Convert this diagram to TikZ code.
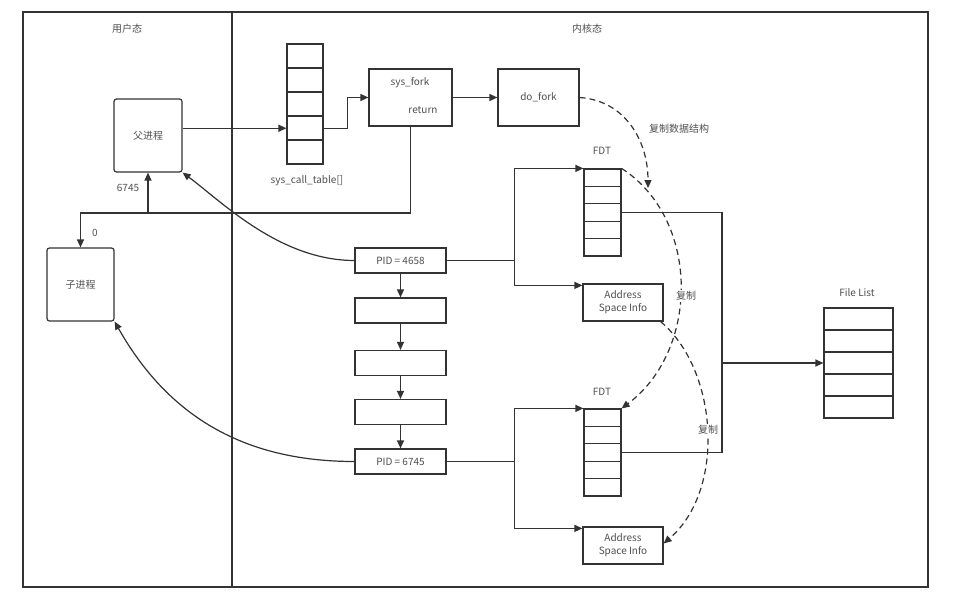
\documentclass[tikz,border=0pt]{standalone}
\usepackage{fontspec}
\setmainfont{Noto Sans CJK SC}
\usetikzlibrary{arrows.meta,calc}
\definecolor{lc}{HTML}{333333}
\definecolor{tc}{HTML}{505050}
\begin{document}
\begin{tikzpicture}[x=1pt,y=-1pt,
  every node/.style={font=\fontsize{10}{13}\selectfont, text=tc},
  wire/.style={draw=lc, line width=1.2pt},
  box/.style={wire, inner sep=0pt, align=center},
  rbox/.style={box, rounded corners=2.5pt},
  tbl/.style={box, path picture={
      \foreach \k in {1,...,4}
        \draw[wire] ($(path picture bounding box.north west)!\k/5!(path picture bounding box.south west)$) --
                    ($(path picture bounding box.north east)!\k/5!(path picture bounding box.south east)$);}},
  arr/.style={wire, -{Triangle[length=8pt,width=7pt]}},
  darr/.style={arr, dash pattern=on 6pt off 4pt},
  lbl/.style={inner sep=1pt, fill=white},
]
\useasboundingbox (0,0) rectangle (968,591);
\fill[white] (0,0) rectangle (968,591);
% frame
\draw[wire] (23,12) rectangle (928,587);
\draw[wire] (232,12) -- (232,587);
\node (tuser) at (127,29) {用户态};
\node (tkern) at (587,29) {内核态};

% user side
\node[rbox, minimum width=68pt, minimum height=73pt] (parent) at (148,135.5) {父进程};
\node[rbox, minimum width=67pt, minimum height=73pt] (child) at (80.5,284.5) {子进程};
\node (l6745) at (128,188) {6745};
\node (l0) at (95,233) {0};

% syscall
\node[tbl, minimum width=36pt, minimum height=120pt] (sct) at (305,104) {};
\node (sctl) at (307,181) {sys\_call\_table[]};
\node[box, minimum width=83pt, minimum height=57pt] (sysfork) at (410.5,97.5) {};
\node (tsf) at (410,83) {sys\_fork};
\node (tret) at (423,110) {return};
\node[box, minimum width=81pt, minimum height=57pt] (dofork) at (538.5,97.5) {do\_fork};

% task list
\node[box, minimum width=91pt, minimum height=25pt] (pid1) at (400.5,260.5) {PID = 4658};
\node[box, minimum width=91pt, minimum height=25pt] (t2) at (400.5,310.5) {};
\node[box, minimum width=91pt, minimum height=25pt] (t3) at (400.5,363) {};
\node[box, minimum width=91pt, minimum height=25pt] (t4) at (400.5,412) {};
\node[box, minimum width=91pt, minimum height=25pt] (pid2) at (400.5,461.5) {PID = 6745};

% FDTs and address space
\node[tbl, minimum width=37pt, minimum height=87pt] (fdt1) at (602.5,212.5) {};
\node (fdt1l) at (602,151) {FDT};
\node[tbl, minimum width=37pt, minimum height=87pt] (fdt2) at (602.5,452.5) {};
\node (fdt2l) at (602,392) {FDT};
\node[box, minimum width=80pt, minimum height=37pt] (asi1) at (623,302.5) {Address\\Space Info};
\node[box, minimum width=80pt, minimum height=37pt] (asi2) at (623,545.5) {Address\\Space Info};
\node[tbl, minimum width=69pt, minimum height=110pt] (fl) at (858.5,363) {};
\node (fll) at (857,293) {File List};

% coordinates
\coordinate (sctin) at ($(sct.north west)!0.7!(sct.south west)$);
\coordinate (rety) at (0,213);
\coordinate (br1) at (514.5,260.5);
\coordinate (br2) at (514.5,461.5);
\coordinate (bus) at (722,0);

% connectors
\draw[arr] (parent.east |- sctin) -- (sctin);
\draw[arr] (sctin -| sct.east) -- ++(24,0) |- (sysfork.west);
\draw[arr] (sysfork) -- (dofork);
\draw[arr] (sysfork.south) |- (child.north |- rety) -- (child.north);
\draw[arr] (parent.south |- rety) -- (parent.south);

\draw[arr] (pid1.west) .. controls +(-75,0) and +(38,28) .. (parent.south east);
\draw[arr] (pid2.west) .. controls +(-105,0) and +(56,99) .. (child.south east);

\draw[arr] (pid1) -- (t2);
\draw[arr] (t2) -- (t3);
\draw[arr] (t3) -- (t4);
\draw[arr] (t4) -- (pid2);

\draw[wire] (pid1.east) -- (br1);
\draw[arr] (br1) |- (fdt1.north west);
\draw[arr] (br1) |- ($(asi1.north west)+(0,2)$);
\draw[wire] (pid2.east) -- (br2);
\draw[arr] (br2) |- (fdt2.north west);
\draw[arr] (br2) |- ($(asi2.north west)+(0,2)$);

\draw[wire] (fdt1.east) -| (bus |- fdt2.east) -- (fdt2.east);
\draw[arr] (bus |- fl.west) -- (fl.west);

% dashed copies
\draw[darr] (dofork.east) .. controls +(45,3) and +(0,-48) .. (648,188);
\draw[darr] (fdt1.north east) .. controls +(79,51) and +(78,-58) .. (fdt2.north east);
\draw[darr] ($(asi1.south east)+(-3,0)$) .. controls +(58,49) and +(62,-53) .. ($(asi2.east)+(0,-2)$);

\node (c0) at (679,129) {复制数据结构};
\node[lbl] (c1) at (686,296) {复制};
\node[lbl] (c2) at (708,430) {复制};
\end{tikzpicture}
\end{document}
